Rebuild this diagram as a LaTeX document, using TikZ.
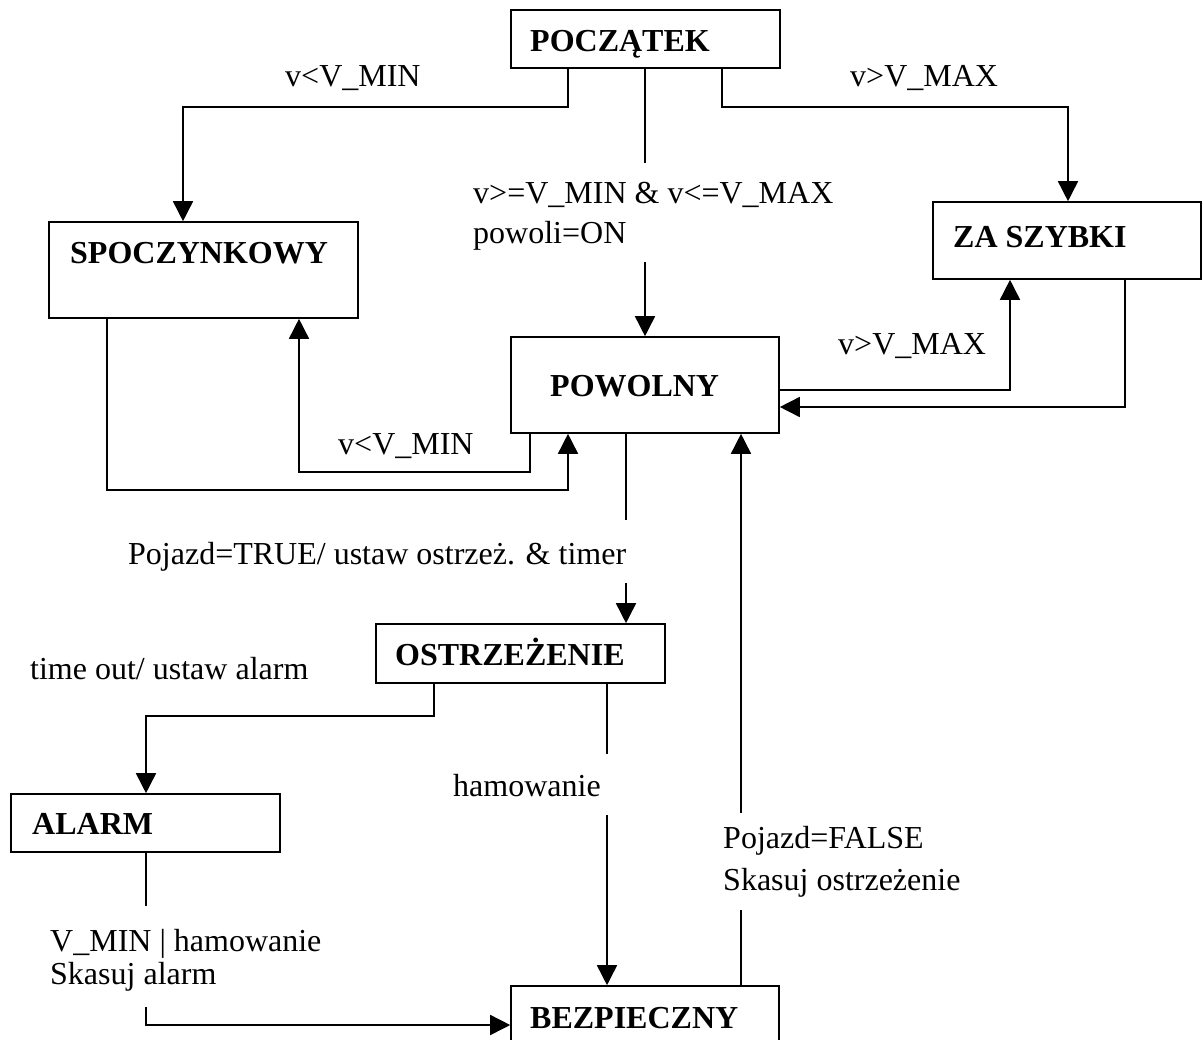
\documentclass[tikz,border=0pt]{standalone}
\usepackage{fontspec}
\setmainfont{Liberation Serif}
\usetikzlibrary{arrows.meta}
\begin{document}
\begin{tikzpicture}[x=1pt,y=-1pt,
  statebox/.style={draw, line width=1.6pt, rectangle, inner sep=0pt},
  statename/.style={anchor=base west, inner sep=0pt, font=\fontsize{32}{38}\selectfont\bfseries},
  cond/.style={anchor=base west, inner sep=0pt, font=\fontsize{32}{38}\selectfont},
  wire/.style={line width=1.6pt},
  arr/.style={wire, -{Triangle[length=20pt,width=20pt]}}]
\useasboundingbox (0,0) rectangle (1202,1039);

% state boxes
\node[statebox, minimum width=269pt, minimum height=58pt] (poczatek) at (645.5,39) {};
\node[statebox, minimum width=309pt, minimum height=96pt] (spoczynkowy) at (203.5,270) {};
\node[statebox, minimum width=268pt, minimum height=77pt] (zaszybki) at (1067,240.5) {};
\node[statebox, minimum width=268pt, minimum height=96pt] (powolny) at (645,385) {};
\node[statebox, minimum width=289pt, minimum height=59pt] (ostrzezenie) at (520.5,653.5) {};
\node[statebox, minimum width=269pt, minimum height=58pt] (alarm) at (145.5,823) {};
\node[statebox, minimum width=268pt, minimum height=74pt] (bezpieczny) at (645,1023) {};

% state names
\node[statename] (n-poczatek) at (530,51) {POCZĄTEK};
\node[statename] (n-spoczynkowy) at (70,263) {SPOCZYNKOWY};
\node[statename] (n-zaszybki) at (953,247) {ZA SZYBKI};
\node[statename] (n-powolny) at (550,396) {POWOLNY};
\node[statename] (n-ostrzezenie) at (395,665) {OSTRZEŻENIE};
\node[statename] (n-alarm) at (32,834) {ALARM};
\node[statename] (n-bezpieczny) at (530,1028) {BEZPIECZNY};

% transition conditions
\node[cond] (c-min1) at (285,86) {v<V\_MIN};
\node[cond] (c-max1) at (850,86) {v>V\_MAX};
\node[cond] (c-range1) at (473,203) {v>=V\_MIN \& v<=V\_MAX};
\node[cond] (c-range2) at (473,243) {powoli=ON};
\node[cond] (c-max2) at (838,354) {v>V\_MAX};
\node[cond] (c-min2) at (338,454) {v<V\_MIN};
\node[cond] (c-true) at (128,564) {Pojazd=TRUE/ ustaw ostrzeż. \& timer};
\node[cond] (c-timeout) at (30,679) {time out/ ustaw alarm};
\node[cond] (c-ham) at (453,796) {hamowanie};
\node[cond] (c-false1) at (723,848) {Pojazd=FALSE};
\node[cond] (c-false2) at (723,890) {Skasuj ostrzeżenie};
\node[cond] (c-reset1) at (50,951) {V\_MIN | hamowanie};
\node[cond] (c-reset2) at (50,984) {Skasuj alarm};

% ends of the line pieces broken by labels
\coordinate (g1a) at (645,163);
\coordinate (g1b) at (645,262);
\coordinate (g2a) at (626,520);
\coordinate (g2b) at (626,583);
\coordinate (g3a) at (607,754);
\coordinate (g3b) at (607,815);
\coordinate (g4a) at (146,906);
\coordinate (g4b) at (146,1007);
\coordinate (g5a) at (741,910);
\coordinate (g5b) at (741,813);

% transitions
\draw[arr] (poczatek.south -| 568,0) |- (183,107) -- (spoczynkowy.north -| 183,0);
\draw[arr] (poczatek.south -| 722,0) |- (1068,107) -- (zaszybki.north -| 1068,0);
\draw[wire] (poczatek.south -| 645,0) -- (g1a);
\draw[arr] (g1b) -- (powolny.north -| 645,0);

\draw[arr] (powolny.east |- 0,390) -| (zaszybki.south -| 1010,0);
\draw[arr] (zaszybki.south -| 1125,0) |- (powolny.east |- 0,407);

\draw[arr] (spoczynkowy.south -| 107,0) |- (568,490) -- (powolny.south -| 568,0);
\draw[arr] (powolny.south -| 530,0) |- (299,472) -- (spoczynkowy.south -| 299,0);

\draw[wire] (powolny.south -| 626,0) -- (g2a);
\draw[arr] (g2b) -- (ostrzezenie.north -| 626,0);

\draw[arr] (ostrzezenie.south -| 434,0) |- (146,716) -- (alarm.north -| 146,0);
\draw[wire] (ostrzezenie.south -| 607,0) -- (g3a);
\draw[arr] (g3b) -- (bezpieczny.north -| 607,0);

\draw[wire] (alarm.south -| 146,0) -- (g4a);
\draw[arr] (g4b) |- (bezpieczny.west |- 0,1025);

\draw[wire] (bezpieczny.north -| 741,0) -- (g5a);
\draw[arr] (g5b) -- (powolny.south -| 741,0);
\end{tikzpicture}
\end{document}
